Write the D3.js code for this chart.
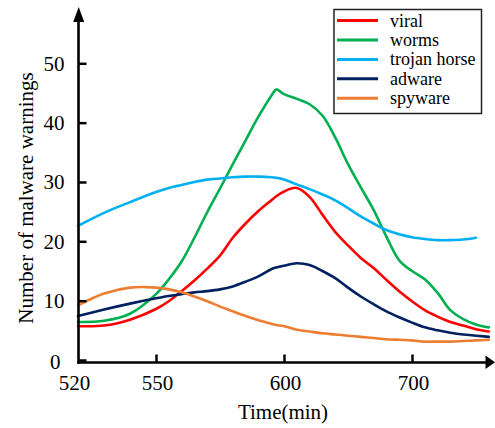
<!DOCTYPE html>
<html>
<head>
<meta charset="utf-8">
<script src="https://cdn.jsdelivr.net/npm/d3@7"></script>
<style>
  html, body { margin: 0; padding: 0; background: #fff; }
  svg text { font-family: "Liberation Serif", "Times New Roman", serif; fill: #000; }
</style>
</head>
<body>
<svg id="chart" width="495" height="428"></svg>
<script>
// ---------- data ----------
const times = [520,530,540,550,555,560,565,570,575,580,585,590,595,597,600,610,620,630,640,650,660,670,680,690,700,710,720,730,740,750,760];

const viral   = [5.7,5.8,6.8,8.6,9.9,11.6,13.4,15.4,17.6,20.6,23.0,25.1,26.9,27.6,28.4,29.0,27.5,24.5,21.6,19.3,17.2,15.5,13.5,11.6,9.9,8.4,7.3,6.4,5.8,5.2,4.8];
const worms   = [6.4,6.6,7.8,11.1,13.6,16.6,20.6,24.9,28.9,33.0,37.0,41.0,44.5,45.6,44.8,44.0,43.1,41.2,37.5,33.0,29.1,25.3,20.8,16.8,15.0,13.6,11.3,8.4,6.9,6.0,5.5];
const trojan  = [22.6,24.8,26.6,28.3,29.0,29.5,30.0,30.4,30.6,30.8,30.9,30.9,30.8,30.7,30.4,29.6,28.8,27.9,26.9,25.6,24.2,23.0,21.9,21.2,20.7,20.4,20.2,20.2,20.3,20.6,null];
const adware  = [7.4,8.5,9.5,10.4,10.8,11.1,11.4,11.6,11.9,12.4,13.2,14.1,15.3,15.6,15.9,16.3,16.0,15.0,13.8,12.2,10.7,9.4,8.2,7.2,6.3,5.5,5.0,4.6,4.3,4.1,3.9];
const spyware = [9.2,11.2,12.2,12.2,11.9,11.4,10.7,9.9,9.0,8.2,7.4,6.7,6.1,5.9,5.7,5.1,4.8,4.5,4.3,4.1,3.9,3.7,3.5,3.4,3.3,3.1,3.1,3.1,3.2,3.3,3.4];

const seriesNames  = ["viral","worms","trojan horse","adware","spyware"];
const seriesValues = [viral, worms, trojan, adware, spyware];
const seriesColors = ["#ff0000","#00b050","#00b0f0","#002060","#ed7d31"];

const xTicks = [520,550,600,700];
const yTicks = [0,10,20,30,40,50];
const xTitle = "Time(min)";
const yTitle = "Number of malware warnings";

// ---------- scales ----------
const svg = d3.select("#chart");
const x = d3.scaleLinear().domain([520,550,600,700,760]).range([78,156,284,412,488.8]);
const y = d3.scaleLinear().domain([0,50]).range([360,63.3]);

// ---------- series ----------
const line = d3.line()
  .defined(d => d[1] != null)
  .x(d => x(d[0]))
  .y(d => y(d[1]))
  .curve(d3.curveCatmullRom.alpha(0.5));

seriesValues.forEach((vals, i) => {
  svg.append("path")
    .datum(times.map((t, j) => [t, vals[j]]))
    .attr("fill", "none")
    .attr("stroke", seriesColors[i])
    .attr("stroke-width", 2.6)
    .attr("stroke-linejoin", "round")
    .attr("stroke-linecap", "round")
    .attr("d", line);
});

// ---------- axes ----------
const axisY = d3.axisLeft(y).tickValues(yTicks).tickSizeInner(-8).tickSizeOuter(0).tickPadding(14).tickFormat(d3.format("d"));
const gy = svg.append("g").attr("transform", "translate(78.5,0)").call(axisY);
gy.select(".domain").remove();
gy.selectAll(".tick line").attr("stroke", "#000").attr("stroke-width", 2.5);
gy.selectAll(".tick text").style("font-size", "21px").attr("fill", "#000")
  .attr("x", d => d === 0 ? -18 : -14)
  .attr("dy", d => d === 0 ? "0.42em" : "0.32em");

const axisX = d3.axisBottom(x).tickValues(xTicks).tickSizeInner(-8).tickSizeOuter(0).tickPadding(13).tickFormat(d3.format("d"));
const gx = svg.append("g").attr("transform", "translate(0,362.5)").call(axisX);
gx.select(".domain").remove();
gx.selectAll(".tick line").attr("stroke", "#000").attr("stroke-width", 2.5)
  .style("display", d => d === 520 ? "none" : null);
gx.selectAll(".tick text").style("font-size", "21px").attr("fill", "#000")
  .attr("x", d => d === 520 ? -4 : 1);

// axis lines with arrows
svg.append("line").attr("x1", 78.5).attr("y1", 363.8).attr("x2", 78.5).attr("y2", 18)
  .attr("stroke", "#000").attr("stroke-width", 2.6);
svg.append("path").attr("d", "M78.7,7 L73.2,22 L84.2,22 Z").attr("fill", "#000");
svg.append("line").attr("x1", 77.2).attr("y1", 362.5).attr("x2", 488).attr("y2", 362.5)
  .attr("stroke", "#000").attr("stroke-width", 2.6);
svg.append("path").attr("d", "M495,362.2 L485.5,355.5 L485.5,369 Z").attr("fill", "#000");

// titles
svg.append("text").attr("x", 283).attr("y", 419).attr("text-anchor", "middle")
  .style("font-size", "21px").text(xTitle);
svg.append("text").attr("transform", "translate(33,198) rotate(-90)").attr("text-anchor", "middle")
  .style("font-size", "21px").text(yTitle);

// ---------- legend ----------
const lg = svg.append("g");
lg.append("rect").attr("x", 334).attr("y", 9.5).attr("width", 147.5).attr("height", 104)
  .attr("fill", "#fff").attr("stroke", "#222").attr("stroke-width", 1.5);
seriesNames.forEach((name, i) => {
  const ry = 20.6 + i * 19.4;
  lg.append("line").attr("x1", 337).attr("x2", 378).attr("y1", ry).attr("y2", ry)
    .attr("stroke", seriesColors[i]).attr("stroke-width", 3);
  lg.append("text").attr("x", 390).attr("y", ry).attr("dy", "0.33em")
    .style("font-size", "18px").text(name);
});
</script>
